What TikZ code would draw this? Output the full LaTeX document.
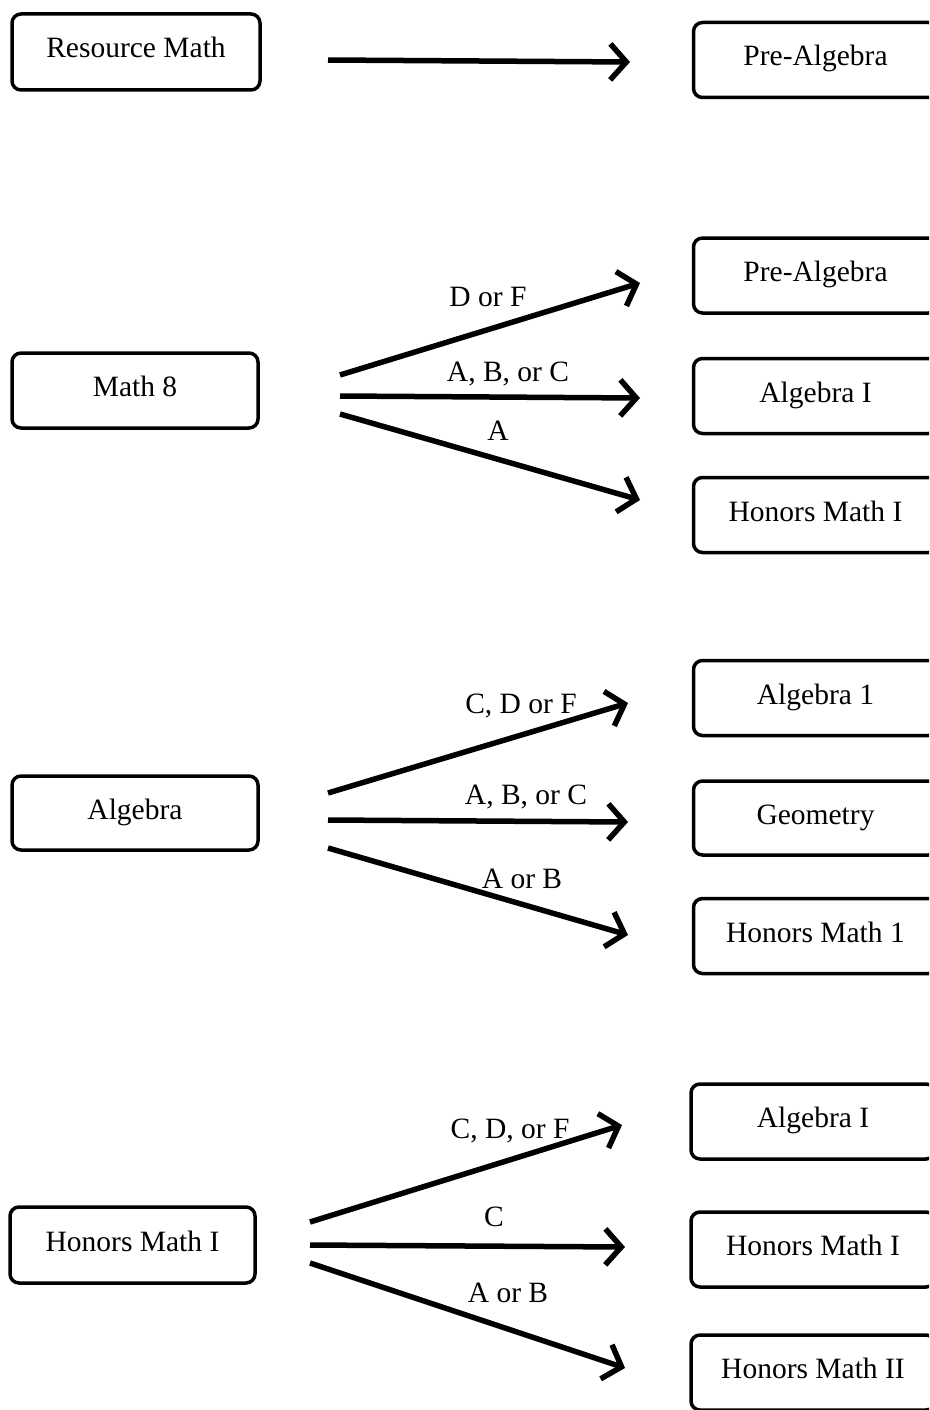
\documentclass[tikz,border=0pt]{standalone}
\usepackage{fontspec}
\setmainfont{Liberation Serif}
\usetikzlibrary{arrows.meta}
\begin{document}
\begin{tikzpicture}[x=1pt,y=-1pt,
  course/.style={draw=black,line width=3.5pt,rounded corners=9pt,minimum height=75pt,inner sep=0pt,text height=20pt,text depth=8pt,font=\fontsize{29.5}{31}\selectfont},
  lbox/.style={course,minimum width=246pt},
  rbox/.style={course,minimum width=244pt},
  flow/.style={line width=5.5pt,-{Straight Barb[length=16pt,width=36pt]}},
  grade/.style={inner sep=0pt,font=\fontsize{29.5}{31}\selectfont}]
\useasboundingbox (0,0) rectangle (929,1410);
\clip (0,0) rectangle (929,1410);
% left nodes
\node[lbox,minimum width=248pt,minimum height=76pt] (rm) at (136,52) {Resource Math};
\node[lbox] (m8) at (135,390.5) {Math 8};
\node[lbox,minimum height=74pt] (alg) at (135,813) {Algebra};
\node[lbox,minimum width=245pt,minimum height=76pt] (hmi) at (132.5,1245) {Honors Math I};
% right nodes
\node[rbox] (pa0) at (815.5,60) {Pre-Algebra};
\node[rbox] (pa1) at (815.5,275.5) {Pre-Algebra};
\node[rbox] (a1) at (815.5,396) {Algebra I};
\node[rbox] (hm1) at (815.5,515) {Honors Math I};
\node[rbox] (al1) at (815.5,698) {Algebra 1};
\node[rbox,minimum height=74pt] (geo) at (815.5,818) {Geometry};
\node[rbox] (hma) at (815.5,936) {Honors Math 1};
\node[rbox] (al2) at (813,1121.5) {Algebra I};
\node[rbox] (hmb) at (813,1249.5) {Honors Math I};
\node[rbox] (hmii) at (813,1372.5) {Honors Math II};
% arrow end points
\coordinate (s0) at (328,60);   \coordinate (e0) at (630,62);
\coordinate (s1) at (340,375);  \coordinate (e1) at (640,283);
\coordinate (s2) at (340,396);  \coordinate (e2) at (640,398);
\coordinate (s3) at (340,414);  \coordinate (e3) at (640,500);
\coordinate (s4) at (328,793);  \coordinate (e4) at (628,703);
\coordinate (s5) at (328,820);  \coordinate (e5) at (628,822);
\coordinate (s6) at (328,848);  \coordinate (e6) at (628,935);
\coordinate (s7) at (310,1222); \coordinate (e7) at (622,1125);
\coordinate (s8) at (310,1245); \coordinate (e8) at (625,1247);
\coordinate (s9) at (310,1263); \coordinate (e9) at (625,1368);
\draw[flow] (s0) -- (e0);
\draw[flow] (s1) -- (e1);
\draw[flow] (s2) -- (e2);
\draw[flow] (s3) -- (e3);
\draw[flow] (s4) -- (e4);
\draw[flow] (s5) -- (e5);
\draw[flow] (s6) -- (e6);
\draw[flow] (s7) -- (e7);
\draw[flow] (s8) -- (e8);
\draw[flow] (s9) -- (e9);
% labels
\node[grade] (g1) at (488,297) {D or F};
\node[grade] (g2) at (508,374) {A, B, or C};
\node[grade] (g3) at (498,431) {A};
\node[grade] (g4) at (521,706) {C, D or F};
\node[grade] (g5) at (526,797) {A, B, or C};
\node[grade] (g6) at (522,879) {A or B};
\node[grade] (g7) at (510,1131) {C, D, or F};
\node[grade] (g8) at (494,1217) {C};
\node[grade] (g9) at (508,1293) {A or B};
\end{tikzpicture}
\end{document}
